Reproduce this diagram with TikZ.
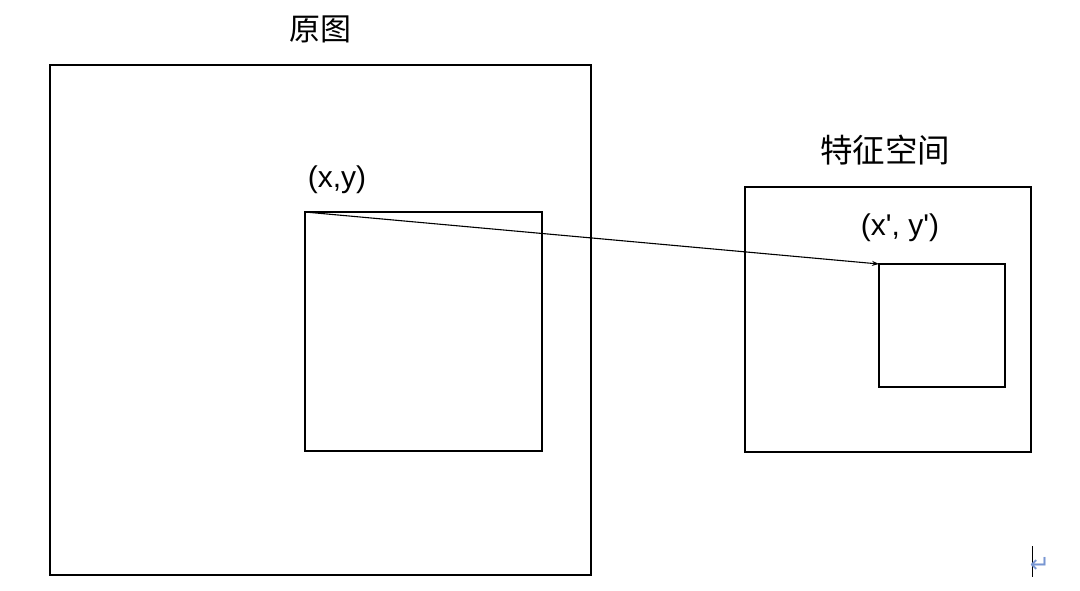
\documentclass[tikz,border=0pt]{standalone}
\usepackage{fontspec}
\setmainfont{Liberation Sans}
\newfontfamily\cjk{Noto Sans CJK SC}
\newfontfamily\dejavu{DejaVu Sans}
\usetikzlibrary{arrows.meta}
\definecolor{retblue}{RGB}{120,150,210}
\begin{document}
\begin{tikzpicture}[x=1pt,y=-1pt,
  box/.style={draw=black, line width=1.1pt, rectangle, inner sep=0pt, outer sep=0pt},
  lbl/.style={font=\fontsize{30}{36}\selectfont, inner sep=0pt},
  cjklbl/.style={font=\cjk\fontsize{31}{37}\selectfont, inner sep=0pt}]
\useasboundingbox[fill=white] (0,0) rectangle (1080,590);
\node[box, minimum width=541pt, minimum height=510pt] (orig) at (320.5,320) {};
\node[box, minimum width=237pt, minimum height=239pt] (win) at (423.5,331.5) {};
\node[box, minimum width=286pt, minimum height=265pt] (feat) at (888,319.5) {};
\node[box, minimum width=126pt, minimum height=123pt] (fwin) at (942,325.5) {};
\node[cjklbl] (t1) at (320,29) {原图};
\node[cjklbl, font=\cjk\fontsize{32.5}{38}\selectfont] (t2) at (885,150) {特征空间};
\node[lbl] (p1) at (337,180) {(x,y)};
\node[lbl] (p2) at (900,228) {(x\textquotesingle, y\textquotesingle)};
\draw[line width=1.1pt, -{Stealth[length=7pt,width=5pt]}] (win.north west) -- (fwin.north west);
\coordinate (c1) at (1032,546);
\coordinate (c2) at (1032,577);
\draw[line width=1pt] (c1) -- (c2);
\node[text=retblue, font=\dejavu\fontsize{24}{26}\selectfont, inner sep=0pt] (ret) at (1040,565) {↵};
\end{tikzpicture}
\end{document}
